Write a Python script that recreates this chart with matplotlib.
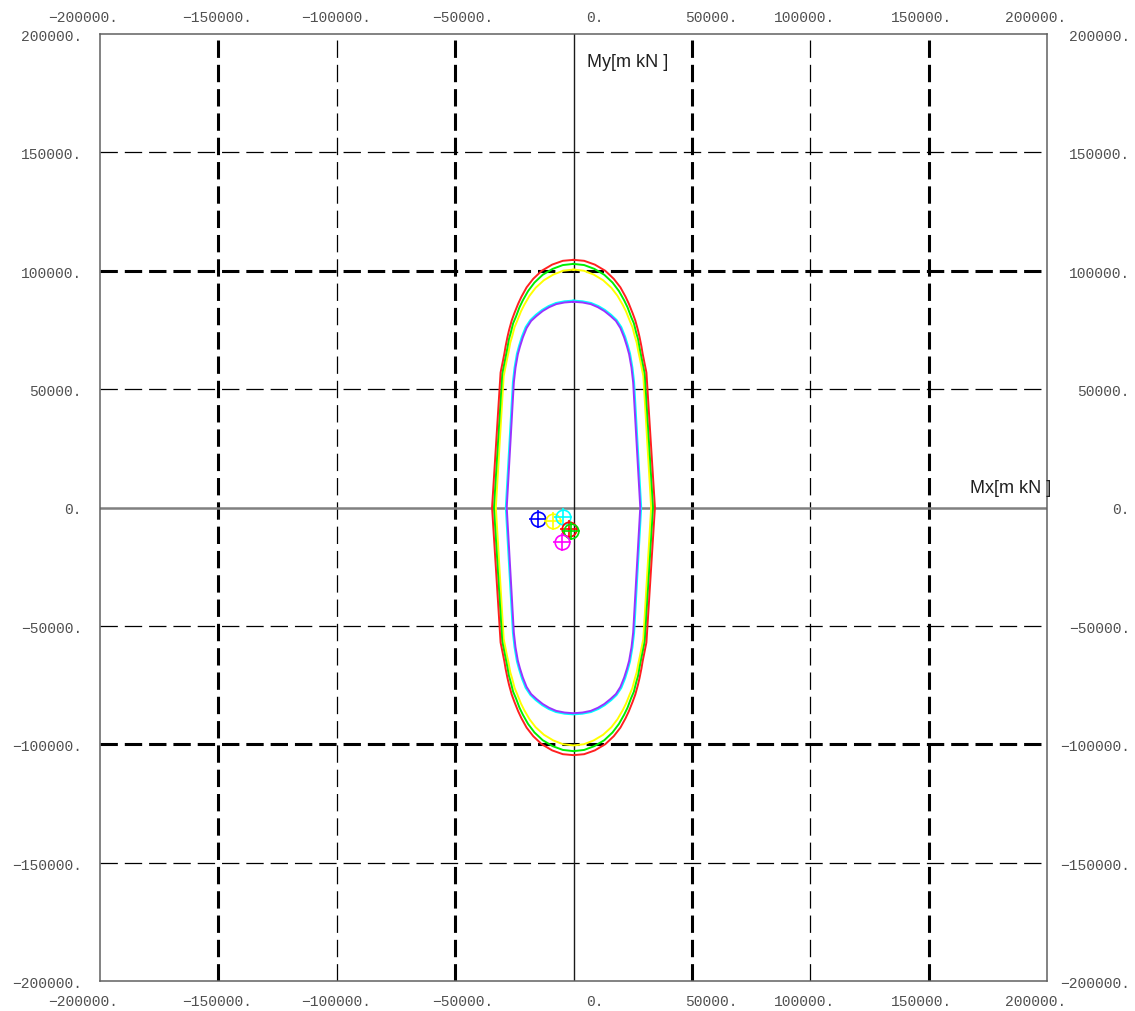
import matplotlib
matplotlib.use("Agg")
import matplotlib.pyplot as plt
import numpy as np

plt.rcParams['lines.scale_dashes'] = False

# interaction curve vertices, one quadrant each (Mx, My) in m kN,
# mirrored about both axes to close the curve
red_mx = [0, 4500, 9000, 13400, 17000, 19800, 22000, 23400, 25000, 26100,
          27200, 27900, 28700, 29200, 30800, 34400]
red_my = [104600, 104200, 102600, 100000, 96600, 93000, 89000, 86000, 82000,
          79000, 75000, 72000, 68000, 65000, 57000, 0]

green_mx = [0, 4500, 8800, 13000, 16500, 19200, 21400, 22800, 24300, 25500,
            26500, 27300, 28000, 28600, 30100, 33600]
green_my = [102900, 102400, 100800, 98300, 95000, 91400, 87500, 84600, 80600,
            77800, 73800, 71000, 67000, 64000, 56500, 0]

yellow_mx = [0, 4400, 8500, 12500, 16000, 18600, 20800, 22200, 23800, 24900,
             25900, 26700, 27400, 28000, 29500, 32800]
yellow_my = [100500, 100000, 98400, 96000, 92800, 89400, 85600, 82800, 78800,
             76200, 72300, 69600, 65800, 63000, 55500, 0]

cyan_mx = [0, 3800, 7400, 10500, 13200, 15900, 18200, 20200, 21800, 23000,
           23900, 24900, 25600, 28600]
cyan_my = [87400, 87100, 86400, 85100, 83500, 81400, 79200, 76200, 72200,
           68300, 65000, 59100, 53000, 0]

purple_mx = [0, 3800, 7300, 10300, 13000, 15600, 17900, 19800, 21400, 22600,
             23500, 24500, 25200, 28200]
purple_my = [86900, 86600, 85900, 84600, 83000, 80900, 78800, 75800, 71800,
             68000, 64700, 59000, 52800, 0]

# load points
pt_colors = ['#0000ff', '#ffff00', '#00ffff', '#ff0000', '#00dd00', '#ff00ff']
pt_mx = [-15000, -8700, -4400, -1900, -1200, -4800]
pt_my = [-4900, -5800, -4100, -9100, -10000, -14700]

ticks = [-200000, -150000, -100000, -50000, 0, 50000, 100000, 150000, 200000]
# horizontal shift of the top/bottom labels, pixels
tick_shift = [-17, -1, -1, 8, 21, 19, -6, -7, -11]


def closed(mx, my):
    mx = np.array(mx, float)
    my = np.array(my, float)
    # right-upper quadrant -> right-lower -> left-lower -> left-upper
    x = np.concatenate([mx, mx[::-1][1:], -mx[1:], -mx[::-1][1:]])
    y = np.concatenate([my, -my[::-1][1:], -my[1:], my[::-1][1:]])
    return x, y


def fmt(v):
    return (str(v) + ".").replace("-", "\u2212")


fig = plt.figure(figsize=(11.35, 10.12), dpi=100)
W, H = 1135, 1012
ax = fig.add_axes([100 / W, (H - 982) / H, 947 / W, 947 / H])
ax.set_xlim(-200000, 200000)
ax.set_ylim(-200000, 200000)
ax.set_xticks([])
ax.set_yticks([])
for s in ax.spines.values():
    s.set_color('#606060')
    s.set_linewidth(1.1)

# dashed grid, heavier at some lines
thick_x = [-150000, -50000, 50000, 150000]
thick_y = [-100000, 100000]
for t in ticks[1:-1]:
    if t == 0:
        continue
    lw = 2.2 if t in thick_x else 0.9
    ax.axvline(t, color='black', lw=lw, dashes=(12.5, 5), zorder=1)
    lw = 2.2 if t in thick_y else 0.9
    ax.axhline(t, color='black', lw=lw, dashes=(12.5, 5), zorder=1)

ax.axhline(0, color='#808080', lw=1.8, zorder=2)
ax.axvline(0, color='#1a1a1a', lw=1.0, zorder=2)

for mx, my, c in [(cyan_mx, cyan_my, '#00ffff'),
                  (purple_mx, purple_my, '#9933ff'),
                  (yellow_mx, yellow_my, '#ffff00'),
                  (green_mx, green_my, '#00ee00'),
                  (red_mx, red_my, '#ff2020')]:
    x, y = closed(mx, my)
    ax.plot(x, y, color=c, lw=1.4, zorder=3, solid_joinstyle='round')

for x, y, c in zip(pt_mx, pt_my, pt_colors):
    ax.plot(x, y, marker='o', ms=10.5, mfc='none', mec=c, mew=1.2, zorder=4)
    ax.plot(x, y, marker='+', ms=13, mec=c, mew=1.2, zorder=4)

px = 72 / 100
lab = dict(family='Liberation Mono', fontsize=10.5, color='#505050')
for t, dx in zip(ticks, tick_shift):
    ax.annotate(fmt(t), (t, 200000), xytext=(dx * px, 17 * px),
                textcoords='offset points', ha='center', va='center', **lab)
    ax.annotate(fmt(t), (t, -200000), xytext=(dx * px, -20 * px),
                textcoords='offset points', ha='center', va='center', **lab)
    ax.annotate(fmt(t), (-200000, t), xytext=(-18 * px, -2 * px),
                textcoords='offset points', ha='right', va='center', **lab)
    ax.annotate(fmt(t), (200000, t), xytext=(83 * px, -2 * px),
                textcoords='offset points', ha='right', va='center', **lab)

ax.text(5700, 188400, "My[m kN ]", family='Liberation Sans', fontsize=13,
        color='#202020', ha='left', va='center')
ax.text(202000, 8300, "Mx[m kN ]", family='Liberation Sans', fontsize=13,
        color='#202020', ha='right', va='center')

fig.savefig("out.png", dpi=100)
